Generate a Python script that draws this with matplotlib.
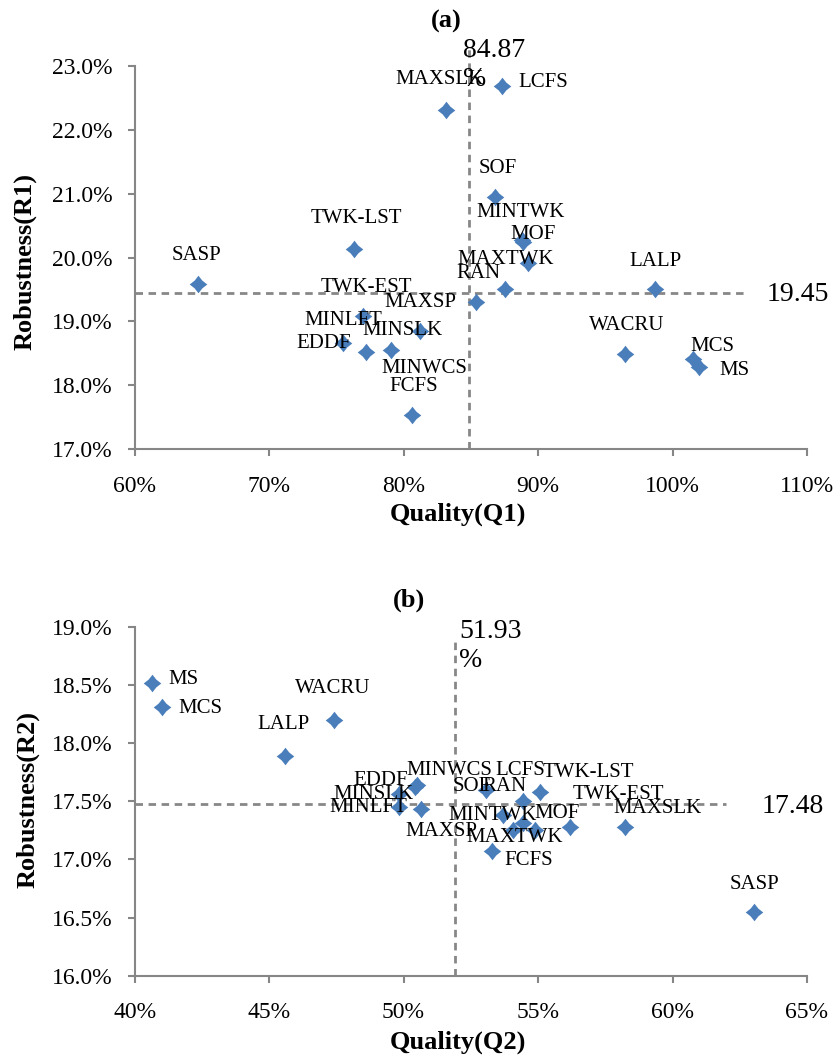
import numpy as np
import matplotlib
matplotlib.use("Agg")
import matplotlib.pyplot as plt
from matplotlib.path import Path
from matplotlib.ticker import FuncFormatter

plt.rcParams['font.family'] = ['Liberation Serif', 'DejaVu Serif']

# rule names, shared order for both panels
rules = ["SASP", "TWK-LST", "MAXSLK", "LCFS", "SOF", "MINTWK", "MOF", "MAXTWK",
         "RAN", "MAXSP", "TWK-EST", "MINLFT", "MINSLK", "EDDF", "MINWCS", "FCFS",
         "LALP", "WACRU", "MCS", "MS"]

# (a) quality Q1 vs robustness R1, in percent
q1 = [64.71, 76.31, 83.15, 87.32, 86.80, 88.78, 88.85, 89.27,
      87.54, 85.36, 77.00, 77.20, 81.22, 75.52, 79.04, 80.65,
      98.69, 96.46, 101.56, 101.96]
r1 = [19.58, 20.14, 22.31, 22.68, 20.95, 20.27, 20.24, 19.91,
      19.50, 19.31, 19.09, 18.52, 18.85, 18.67, 18.55, 17.53,
      19.50, 18.49, 18.41, 18.28]
q1_mean = 84.87
r1_mean = 19.45

# (b) quality Q2 vs robustness R2, in percent
q2 = [63.02, 55.07, 58.23, 54.45, 53.06, 53.68, 54.88, 54.06,
      54.43, 50.64, 56.19, 49.83, 49.83, 50.42, 50.49, 53.28,
      45.61, 47.42, 41.02, 40.65]
r2 = [16.55, 17.58, 17.28, 17.50, 17.60, 17.38, 17.25, 17.25,
      17.31, 17.43, 17.28, 17.45, 17.56, 17.62, 17.64, 17.07,
      17.89, 18.20, 18.31, 18.52]
q2_mean = 51.93
r2_mean = 17.48

# label offsets in pixels (dx, dy) so the crowded names stay readable
offs_a = {"SASP": (-1, 29), "TWK-LST": (2, 30), "MAXSLK": (-6, 30), "LCFS": (41, 4),
          "SOF": (3, 28), "MINTWK": (-1, 28), "MOF": (10, 8), "MAXTWK": (-23, 4),
          "RAN": (-27, 16), "MAXSP": (-55, -1), "TWK-EST": (3, 28), "MINLFT": (-23, 32),
          "MINSLK": (-18, 1), "EDDF": (-20, -1), "MINWCS": (34, -18), "FCFS": (1, 29),
          "LALP": (1, 28), "WACRU": (2, 29), "MCS": (19, 13), "MS": (36, -3)}
offs_b = {"SASP": (1, 27), "TWK-LST": (48, 19), "MAXSLK": (33, 18), "LCFS": (-3, 31),
          "SOF": (-14, 3), "MINTWK": (-10, 0), "MOF": (22, 17), "MAXTWK": (2, -7),
          "RAN": (-18, 37), "MAXSP": (21, -22), "TWK-EST": (48, 32), "MINLFT": (-31, 0),
          "MINSLK": (-26, 0), "EDDF": (-34, 7), "MINWCS": (33, 14), "FCFS": (37, -9),
          "LALP": (-2, 31), "WACRU": (-1, 31), "MCS": (38, -2), "MS": (31, 3)}

# four-point diamond with slightly pinched sides
k = 0.44
star = Path([(0, 1), (k, k), (1, 0), (k, -k), (0, -1), (-k, -k), (-1, 0), (-k, k), (0, 1)],
            [Path.MOVETO] + [Path.LINETO] * 7 + [Path.CLOSEPOLY])

blue = "#4a7ebb"
grey = "#878787"
W, H = 840, 1055

fig = plt.figure(figsize=(W / 100, H / 100), dpi=100)
ax_a = fig.add_axes([134.6 / W, 1 - 449.3 / H, 672.4 / W, 383.6 / H])
ax_b = fig.add_axes([134.6 / W, 1 - 975.7 / H, 672.4 / W, 349.0 / H])


def style(ax, xlim, ylim, xticks, yticks):
    ax.set_xlim(*xlim)
    ax.set_ylim(*ylim)
    ax.set_xticks(xticks)
    ax.set_yticks(yticks)
    ax.xaxis.set_major_formatter(FuncFormatter(lambda v, p: f"{v:.0f}%"))
    ax.yaxis.set_major_formatter(FuncFormatter(lambda v, p: f"{v:.1f}%"))
    for s in ("top", "right"):
        ax.spines[s].set_visible(False)
    for s in ("left", "bottom"):
        ax.spines[s].set_color("#868686")
        ax.spines[s].set_linewidth(1.5)
    ax.tick_params(direction="out", length=5, width=1.5, color="#868686",
                   labelsize=17, pad=11)
    ax.tick_params(axis="x", pad=14)


def panel(ax, xs, ys, offs, xm, ym, hx_end, vy_top, mx_txt, my_txt):
    ax.scatter(xs, ys, marker=star, s=160, color=blue, zorder=3, linewidths=0)
    for name, x, y in zip(rules, xs, ys):
        ax.annotate(name, (x, y), xytext=offs[name], textcoords="offset pixels",
                    ha="center", va="center", fontsize=15, zorder=4)
    x0, x1 = ax.get_xlim()
    y0, y1 = ax.get_ylim()
    ax.plot([x0, hx_end], [ym, ym], color=grey, lw=2, dashes=(2.7, 2), zorder=1,
            clip_on=False)
    ax.plot([xm, xm], [y0, vy_top], color=grey, lw=2, dashes=(2.7, 2), zorder=1,
            clip_on=False)
    ax.annotate(f"{xm:.2f}\n%", (xm, 1), xycoords=("data", "axes fraction"),
                xytext=mx_txt, textcoords="offset pixels", ha="left", va="top",
                fontsize=20, linespacing=1.25)
    ax.annotate(f"{ym:.2f}", (hx_end, ym), xytext=my_txt, textcoords="offset pixels",
                ha="left", va="center", fontsize=20)


style(ax_a, (60, 110), (17, 23), np.arange(60, 111, 10), np.arange(17, 23.01, 1))
panel(ax_a, q1, r1, offs_a, q1_mean, r1_mean, 105.5, 23.32, (-6, 28), (20, -2))

style(ax_b, (40, 65), (16, 19), np.arange(40, 66, 5), np.arange(16, 19.01, 0.5))
panel(ax_b, q2, r2, offs_b, q2_mean, r2_mean, 62.0, 18.88, (4, 8), (35, -3))

fig.text(446 / W, 1 - 21 / H, "(a)", ha="center", va="center", fontsize=19,
         fontweight="bold")
fig.text(409 / W, 1 - 600 / H, "(b)", ha="center", va="center", fontsize=19,
         fontweight="bold")
fig.text(458 / W, 1 - 514 / H, "Quality(Q1)", ha="center", va="center", fontsize=19,
         fontweight="bold")
fig.text(458 / W, 1 - 1042 / H, "Quality(Q2)", ha="center", va="center", fontsize=19,
         fontweight="bold")
fig.text(25 / W, 1 - 262 / H, "Robustness(R1)", ha="center", va="center", fontsize=19,
         fontweight="bold", rotation=90)
fig.text(28 / W, 1 - 800 / H, "Robustness(R2)", ha="center", va="center", fontsize=19,
         fontweight="bold", rotation=90)

fig.savefig("out.png", dpi=100)
